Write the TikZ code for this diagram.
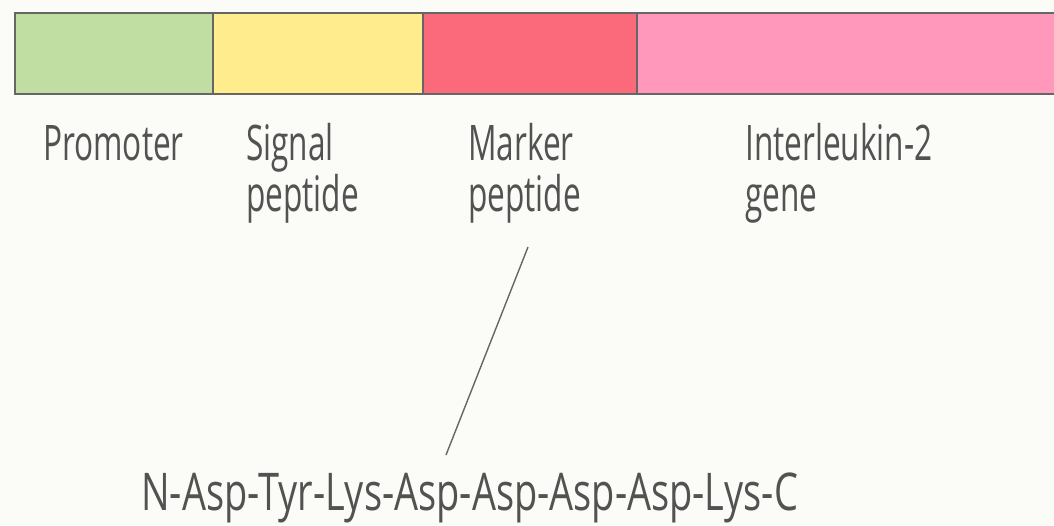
\documentclass[tikz,border=0pt]{standalone}
\usepackage{fontspec}
\setmainfont{Open Sans}
\newfontfamily\lblfont{Open Sans}[FakeStretch=0.645]
\newfontfamily\chainfont{Open Sans}[FakeStretch=0.73]
\begin{document}
\begin{tikzpicture}[x=1pt,y=-1pt,
  seg/.style={draw=black!60, line width=2pt},
  lbl/.style={anchor=base west, inner sep=0pt, align=left, text=black!68,
    font=\lblfont\fontsize{49}{51}\selectfont},
  chn/.style={anchor=base west, inner sep=0pt, text=black!68,
    font=\chainfont\fontsize{52}{54}\selectfont},
  lead/.style={draw=black!60, line width=1.4pt}]
\fill[fill={rgb,255:red,251;green,251;blue,248}] (0,0) rectangle (1054,525);
\useasboundingbox (0,0) rectangle (1054,525);
\fill[fill={rgb,255:red,192;green,221;blue,162}] (15,13) rectangle (213,94);
\fill[fill={rgb,255:red,255;green,236;blue,140}] (213,13) rectangle (423,94);
\fill[fill={rgb,255:red,250;green,106;blue,122}] (423,13) rectangle (637,94);
\fill[fill={rgb,255:red,255;green,152;blue,186}] (637,13) rectangle (1054,94);
\draw[seg] (1054,13) -- (15,13) -- (15,94) -- (1054,94);
\draw[seg] (213,13) -- (213,94);
\draw[seg] (423,13) -- (423,94);
\draw[seg] (637,13) -- (637,94);
\node[lbl] (prom) at (43,160) {Promoter};
\node[lbl] (sig) at (246,211) {Signal\\peptide};
\node[lbl] (mark) at (468,211) {Marker\\peptide};
\node[lbl] (il2) at (745,211) {Interleukin-2\\gene};
\node[chn] (chain) at (141,510) {N-Asp-Tyr-Lys-Asp-Asp-Asp-Asp-Lys-C};
\coordinate (top) at (528,247);
\coordinate (bot) at (446,455);
\draw[lead] (top) -- (bot);
\end{tikzpicture}
\end{document}
